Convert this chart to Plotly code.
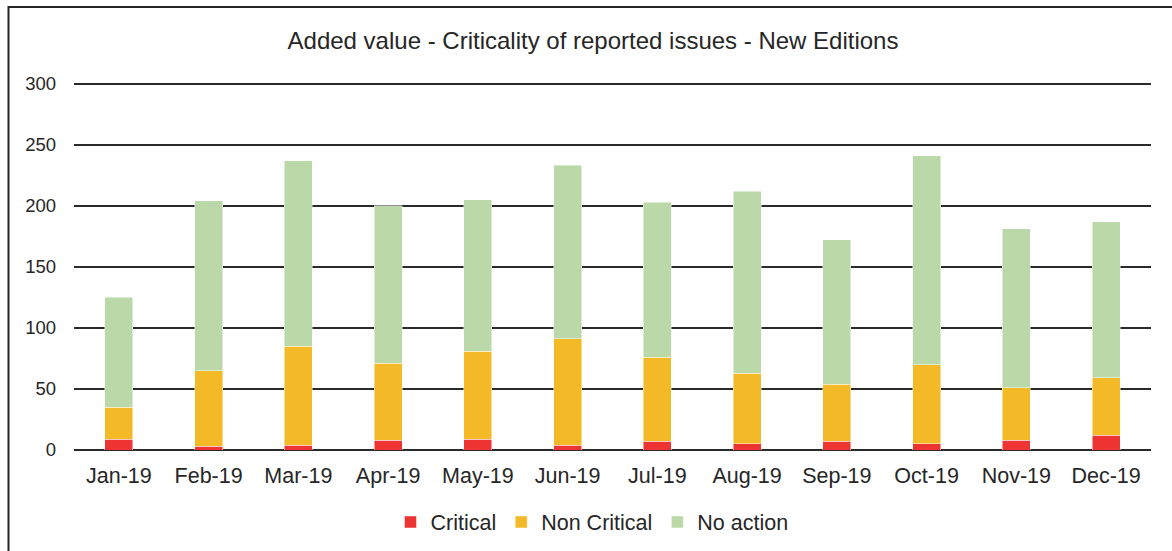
import plotly.graph_objects as go

months = ["Jan-19", "Feb-19", "Mar-19", "Apr-19", "May-19", "Jun-19",
          "Jul-19", "Aug-19", "Sep-19", "Oct-19", "Nov-19", "Dec-19"]
critical = [9, 3, 4, 8, 9, 4, 7, 5, 7, 5, 8, 12]
non_critical = [26, 62, 81, 63, 72, 87, 69, 58, 47, 65, 43, 47]
no_action = [90, 139, 152, 129, 124, 142, 127, 149, 118, 171, 130, 128]
y_ticks = [0, 50, 100, 150, 200, 250, 300]

FONT = "Liberation Sans, Arial, sans-serif"
TXT = "#262626"

fig = go.Figure()
for name, vals, col in [("Critical", critical, "#EE3432"),
                        ("Non Critical", non_critical, "#F4B926"),
                        ("No action", no_action, "#BBD8A9")]:
    fig.add_trace(go.Bar(x=months, y=vals, name=name, width=0.31,
                         marker=dict(color=col, line=dict(color="rgba(255,255,255,0.6)", width=0.8))))

L, R, T, B = 74, 21, 80, 101
W, H = 1172, 551
pw, ph = W - L - R, H - T - B

fig.update_layout(
    barmode="stack",
    width=W, height=H,
    margin=dict(l=L, r=R, t=T, b=B),
    paper_bgcolor="white", plot_bgcolor="white",
    font=dict(family=FONT, size=21, color=TXT),
    title=dict(text="Added value - Criticality of reported issues - New Editions",
               x=593 / W, xref="container", xanchor="center",
               y=1 - 41 / H, yref="container", yanchor="middle",
               font=dict(size=24, color=TXT, family=FONT)),
    xaxis=dict(showgrid=False, showline=False, ticks="", tickfont=dict(size=21.5),
               ticklabelstandoff=10),
    yaxis=dict(range=[0, 303], tickvals=y_ticks, showgrid=True, gridcolor="#2a2a2a",
               gridwidth=2, zeroline=True, zerolinecolor="#2a2a2a", zerolinewidth=2,
               showline=False, ticks="", tickfont=dict(size=18.5), ticklabelstandoff=17),
    legend=dict(orientation="h", x=592 / W, xref="container", xanchor="center",
                y=1 - 522 / H, yref="container", yanchor="middle",
                font=dict(size=21.5), traceorder="normal", itemwidth=30),
    showlegend=True,
)

fig.add_shape(type="rect", xref="paper", yref="paper",
              x0=(8.5 - L) / pw, x1=(W + 10 - L) / pw,
              y0=(450 - 570) / ph, y1=(450 - 7) / ph,
              line=dict(color="#262626", width=2), fillcolor="rgba(0,0,0,0)", layer="below")

fig.write_html("out.html", config={"displayModeBar": False},
               post_script="document.body.style.margin='0';document.body.style.overflow='hidden';")
